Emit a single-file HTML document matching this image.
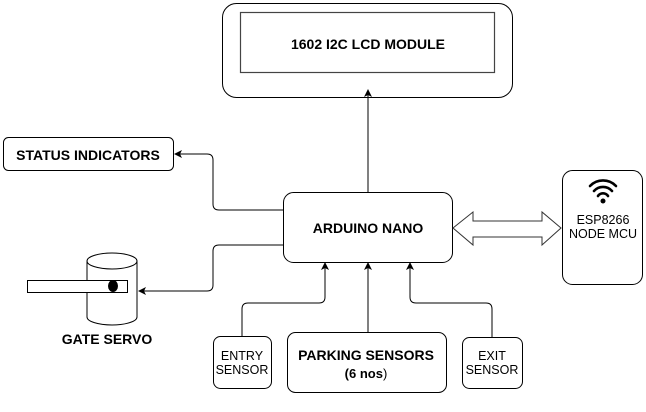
<!DOCTYPE html>
<html><head><style>
body{margin:0;background:#fff;}
svg text{font-family:"Liberation Sans",Arial,sans-serif;fill:#000;}
</style></head><body>
<svg width="646" height="407" viewBox="0 0 646 407" xmlns="http://www.w3.org/2000/svg">
<defs><marker id="a" markerWidth="8" markerHeight="8" refX="7" refY="4" orient="auto" markerUnits="userSpaceOnUse"><path d="M0,0 L8,4 L0,8 L2,4 Z" fill="#000"/></marker></defs>
<g fill="none" stroke="#000" stroke-width="1">
<rect x="222.5" y="3.5" width="290" height="94" rx="14" fill="#fff"/>
<rect x="240.5" y="12.5" width="254" height="60" stroke="#444" stroke-width="1.2"/>
<rect x="283.5" y="192.5" width="169" height="70" rx="10"/>
<rect x="3.5" y="137.5" width="170" height="33" rx="5"/>
<rect x="562.5" y="170.5" width="80" height="114" rx="10"/>
<rect x="213.5" y="336.5" width="58" height="52" rx="7"/>
<rect x="287.5" y="332.5" width="159" height="60" rx="8"/>
<rect x="462.5" y="337.5" width="60" height="51" rx="7"/>
<path d="M368,192 V90" marker-end="url(#a)"/>
<path d="M283,210 H219 Q213,210 213,204 V160 Q213,154 207,154 H175" marker-end="url(#a)"/>
<path d="M283,245 H219 Q213,245 213,251 V285 Q213,291 207,291 H139" marker-end="url(#a)"/>
<path d="M242,336 V309 Q242,303 248,303 H319 Q325,303 325,297 V263" marker-end="url(#a)"/>
<path d="M368,332 V263" marker-end="url(#a)"/>
<path d="M492,337 V309 Q492,303 486,303 H416 Q410,303 410,297 V263" marker-end="url(#a)"/>
<path d="M87,261 V317 A25,8 0 0 0 137,317 V261" fill="#fff"/>
<ellipse cx="112" cy="261" rx="25" ry="8" fill="#fff"/>
<rect x="27.5" y="280.5" width="100" height="12" fill="#fff"/>
<path d="M453,228 L473,212 V221 H542 V212 L561,228 L542,245 V237 H473 V245 Z" fill="#fff" stroke="#333"/>
</g>
<ellipse cx="113" cy="286" rx="5" ry="6" fill="#000"/>
<g fill="none" stroke="#000" stroke-width="2.6" stroke-linecap="round">
<path d="M590,186 A18,18 0 0 1 616,186"/>
<path d="M594,191 A12,12 0 0 1 612,191"/>
<path d="M598,196 A6,6 0 0 1 608,196"/>
</g>
<circle cx="603" cy="201" r="2.5" fill="#000"/>
<g font-weight="bold" text-anchor="middle" font-size="14">
<text x="368" y="49">1602 I2C LCD MODULE</text>
<text x="368" y="233">ARDUINO NANO</text>
<text x="88" y="160">STATUS INDICATORS</text>
<text x="107" y="344">GATE SERVO</text>
<text x="366" y="360">PARKING SENSORS</text>
</g>
<text x="366" y="378" text-anchor="middle" font-size="13"><tspan font-weight="bold">(6 nos</tspan>)</text>
<g text-anchor="middle" font-size="12.5">
<text x="603" y="224">ESP8266</text>
<text x="603" y="238">NODE MCU</text>
<text x="242" y="360">ENTRY</text>
<text x="242" y="374">SENSOR</text>
<text x="492" y="360">EXIT</text>
<text x="492" y="374">SENSOR</text>
</g>
</svg>
</body></html>
